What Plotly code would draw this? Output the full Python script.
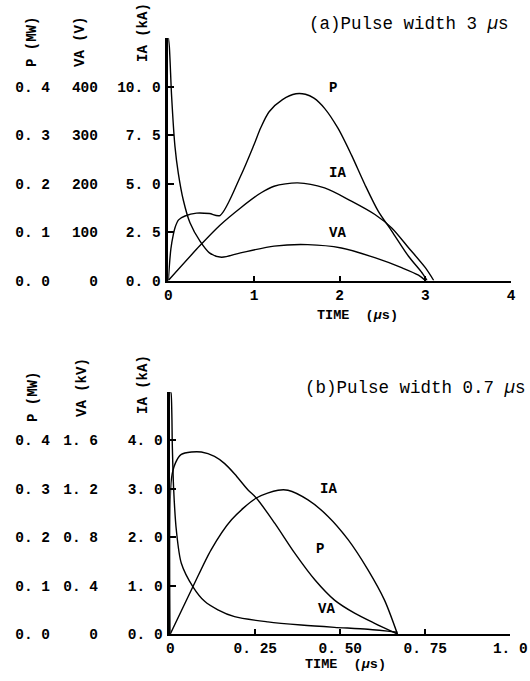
import plotly.graph_objects as go

# ---------------- (a) Pulse width 3 us ----------------
t_a_va = [0, 0.012, 0.039, 0.078, 0.117, 0.175, 0.253, 0.37, 0.48, 0.62, 0.843, 1.235, 1.627, 2.02, 2.41, 2.73, 2.92, 3.0]
va_a = [500, 482, 379, 276, 221, 166, 119, 81, 57, 48, 57, 71, 74, 67, 47, 26, 11, 0]  # V

t_a_p = [0, 0.03, 0.059, 0.08, 0.12, 0.195, 0.33, 0.48, 0.603, 0.843, 1.0, 1.079, 1.177, 1.333, 1.49, 1.6, 1.7,
         1.824, 1.98, 2.137, 2.294, 2.45, 2.608, 2.804, 2.961, 3.02]
p_a = [0, 0.065, 0.095, 0.11, 0.125, 0.133, 0.139, 0.138, 0.134, 0.215, 0.28, 0.315, 0.348, 0.373, 0.385, 0.384, 0.376,
       0.355, 0.314, 0.259, 0.198, 0.143, 0.102, 0.050, 0.016, 0]  # MW

t_a_ia = [0, 0.37, 0.603, 0.843, 1.079, 1.235, 1.51, 1.824, 2.137, 2.412, 2.608, 2.804, 3.0, 3.098]
ia_a = [0, 1.8, 2.85, 3.74, 4.51, 4.86, 5.03, 4.77, 4.09, 3.40, 2.71, 1.69, 0.66, 0]  # kA

# ---------------- (b) Pulse width 0.7 us ----------------
t_b_va = [0, 0.002, 0.006, 0.0098, 0.0177, 0.0324, 0.0667, 0.101, 0.14, 0.189, 0.287, 0.385, 0.483, 0.581, 0.668]
va_b = [2.0, 1.99, 1.55, 1.2, 0.86, 0.585, 0.39, 0.27, 0.20, 0.143, 0.10, 0.074, 0.055, 0.039, 0.015]  # kV

t_b_ia = [0, 0.0667, 0.12, 0.18, 0.253, 0.317, 0.346, 0.405, 0.464, 0.523, 0.581, 0.63, 0.668]
ia_b = [0, 0.98, 1.74, 2.36, 2.81, 2.97, 2.97, 2.77, 2.43, 1.95, 1.33, 0.70, 0]  # kA

t_b_p = [0, 0.003, 0.0149, 0.0324, 0.062, 0.0913, 0.13, 0.16, 0.19, 0.228, 0.253, 0.307, 0.366, 0.425, 0.483, 0.542, 0.601, 0.668]
p_b = [0, 0.319, 0.353, 0.371, 0.376, 0.376, 0.367, 0.352, 0.330, 0.298, 0.281, 0.229, 0.167, 0.112, 0.070, 0.043, 0.022, 0]  # MW

# tick labels
xt_a = [0, 1, 2, 3, 4]
xt_a_text = ["0", "1", "2", "3", "4"]
xt_b = [0, 0.25, 0.5, 0.75, 1.0]
xt_b_text = ["0", "0. 25", "0. 50", "0. 75", "1. 0"]

ia_a_ticks = [0, 2.5, 5, 7.5, 10, 12.5]
ia_a_text = ["0. 0", "2. 5", "5. 0", "7. 5", "10. 0", ""]
va_a_ticks = [0, 100, 200, 300, 400]
va_a_text = ["0", "100", "200", "300", "400"]
p_ticks = [0, 0.1, 0.2, 0.3, 0.4]
p_text = ["0. 0", "0. 1", "0. 2", "0. 3", "0. 4"]

ia_b_ticks = [0, 1, 2, 3, 4, 5]
ia_b_text = ["0. 0", "1. 0", "2. 0", "3. 0", "4. 0", ""]
va_b_ticks = [0, 0.4, 0.8, 1.2, 1.6]
va_b_text = ["0", "0. 4", "0. 8", "1. 2", "1. 6"]

W, H = 530, 681
MONO = "Liberation Mono"

def px(x):
    return x / W

def py(y):
    return 1 - y / H

line = dict(color="black", width=1.4, shape="spline", smoothing=0.8)

fig = go.Figure()
fig.add_trace(go.Scatter(x=t_a_va, y=va_a, xaxis="x", yaxis="y2", mode="lines", line=line, name="VA"))
fig.add_trace(go.Scatter(x=t_a_p, y=p_a, xaxis="x", yaxis="y3", mode="lines", line=line, name="P"))
fig.add_trace(go.Scatter(x=t_a_ia, y=ia_a, xaxis="x", yaxis="y", mode="lines", line=line, name="IA"))
fig.add_trace(go.Scatter(x=t_b_va, y=va_b, xaxis="x2", yaxis="y5", mode="lines", line=line, name="VA"))
fig.add_trace(go.Scatter(x=t_b_p, y=p_b, xaxis="x2", yaxis="y6", mode="lines", line=line, name="P"))
fig.add_trace(go.Scatter(x=t_b_ia, y=ia_b, xaxis="x2", yaxis="y4", mode="lines", line=line, name="IA"))

tickfont = dict(family=MONO, size=14.5, color="black", weight="bold")
common_x = dict(showgrid=False, zeroline=False, showline=True, linecolor="black", linewidth=2,
                ticks="inside", ticklen=5, tickwidth=2, tickcolor="black", tickfont=tickfont)
common_y = dict(showgrid=False, zeroline=False, showline=True, linecolor="black", linewidth=2.5,
                ticks="inside", ticklen=6, tickwidth=2, tickcolor="black", tickfont=tickfont,
                tickmode="array", ticklabelstandoff=2)
free_y = dict(showgrid=False, zeroline=False, showline=False, ticks="", tickfont=tickfont,
              tickmode="array", anchor="free", side="left")

top_dom = [py(280.5), py(38)]
bot_dom = [py(634), py(392)]

fig.update_layout(
    width=W, height=H, autosize=False,
    margin=dict(l=0, r=0, t=0, b=0, autoexpand=False),
    paper_bgcolor="white", plot_bgcolor="white",
    showlegend=False,
    xaxis=dict(domain=[px(168.3), px(511)], range=[0, 4], anchor="y",
               tickvals=xt_a, ticktext=xt_a_text, **common_x),
    yaxis=dict(domain=top_dom, range=[0, 12.5], anchor="x",
               tickvals=ia_a_ticks, ticktext=ia_a_text, **common_y),
    yaxis2=dict(overlaying="y", range=[0, 500], position=px(98),
                tickvals=va_a_ticks, ticktext=va_a_text, **free_y),
    yaxis3=dict(overlaying="y", range=[0, 0.5], position=px(50),
                tickvals=p_ticks, ticktext=p_text, **free_y),
    xaxis2=dict(domain=[px(170.3), px(510.3)], range=[0, 1], anchor="y4",
                tickvals=xt_b, ticktext=xt_b_text, **common_x),
    yaxis4=dict(domain=bot_dom, range=[0, 5], anchor="x2",
                tickvals=ia_b_ticks, ticktext=ia_b_text, **common_y),
    yaxis5=dict(overlaying="y4", range=[0, 2.0], position=px(98),
                tickvals=va_b_ticks, ticktext=va_b_text, **free_y),
    yaxis6=dict(overlaying="y4", range=[0, 0.5], position=px(50),
                tickvals=p_ticks, ticktext=p_text, **free_y),
)

lab = dict(family=MONO, size=14, color="black", weight="bold")
ann = []
for txt, x, y in [("P", 1.92, 9.9), ("IA", 1.98, 5.55), ("VA", 1.98, 2.47)]:
    ann.append(dict(text=txt, x=x, y=y, xref="x", yref="y", showarrow=False, font=lab,
                    xanchor="center", yanchor="middle"))
for txt, x, y in [("IA", 0.465, 2.99), ("P", 0.44, 1.75), ("VA", 0.46, 0.52)]:
    ann.append(dict(text=txt, x=x, y=y, xref="x2", yref="y4", showarrow=False, font=lab,
                    xanchor="center", yanchor="middle"))

for txt, x, y in [("P (MW)", 32, 42), ("VA (V)", 80, 42), ("IA (kA)", 143, 33),
                  ("P (MW)", 33, 397), ("VA (kV)", 82, 388), ("IA (kA)", 143, 385)]:
    ann.append(dict(text=txt, x=px(x), y=py(y), xref="paper", yref="paper", showarrow=False,
                    xanchor="center", yanchor="middle", textangle=-90,
                    font=dict(family=MONO, size=14, color="black", weight="bold")))

for x, y in [(357, 315), (345, 664)]:
    ann.append(dict(text="TIME  (<i>µ</i>s)", x=px(x), y=py(y), xref="paper", yref="paper",
                    xanchor="center", yanchor="middle", showarrow=False,
                    font=dict(family=MONO, size=13.5, color="black", weight="bold")))

ann.append(dict(text="(a)Pulse width 3 <i>µ</i>s", x=px(511), y=py(24), xref="paper", yref="paper",
                xanchor="right", yanchor="middle", showarrow=False,
                font=dict(family=MONO, size=17.5, color="black")))
ann.append(dict(text="(b)Pulse width 0.7 <i>µ</i>s", x=px(528), y=py(388), xref="paper", yref="paper",
                xanchor="right", yanchor="middle", showarrow=False,
                font=dict(family=MONO, size=17.5, color="black")))

fig.update_layout(annotations=ann)

fig.write_html("out.html", post_script="document.body.style.margin='0px';",
               config={"displayModeBar": False})
